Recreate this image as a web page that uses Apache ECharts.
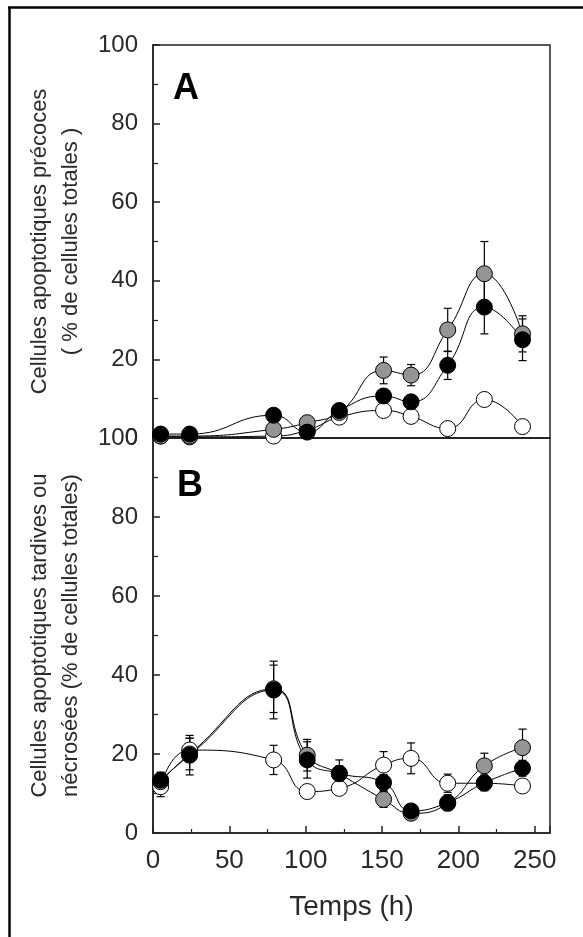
<!DOCTYPE html>
<html><head><meta charset="utf-8">
<script src="https://cdn.jsdelivr.net/npm/echarts@6/dist/echarts.min.js"></script>
<style>html,body{margin:0;padding:0;background:#fff}#c{width:583px;height:937px}</style>
</head><body><div id="c"></div>
<script>
// ---- data ----
const hours = [5, 24, 79, 101, 122, 151, 169, 193, 217, 242];
const xTickLabels = [0, 50, 100, 150, 200, 250];
const yTickLabels = [0, 20, 40, 60, 80, 100];

// Panel A : early apoptotic cells (% of total)
const blackA = [1, 1, 5.8, 1.5, 7, 10.7, 9.2, 18.5, 33.3, 25];
const grayA  = [0.5, 0.5, 2.2, 3.9, 6.5, 17.2, 16, 27.5, 41.8, 26.5];
const whiteA = [0.5, 0.3, 0.5, 2, 5.3, 7, 5.5, 2.4, 9.8, 2.9];
const blackAerr = [0.5, 0.5, 1, 1, 1, 1.5, 1.5, 3.6, 6.8, 5.3];
const grayAerr  = [0.5, 0.5, 1, 1, 1, 3.4, 2.7, 5.5, 8.2, 4.6];
const whiteAerr = [0.5, 0.5, 0.5, 1, 1, 1, 1, 1, 1, 1];

// Panel B : late apoptotic / necrotic cells (% of total)
const blackB = [13.4, 19.7, 36.2, 18.5, 15.1, 12.8, 5.6, 7.7, 12.7, 16.4];
const grayB  = [13, 20, 36.5, 19.7, 15, 8.5, 5, 7.5, 17, 21.6];
const whiteB = [11.7, 21, 18.5, 10.5, 11.3, 17.2, 18.9, 12.6, 12.6, 11.9];
const blackBerr = [2, 5, 7.3, 4.6, 3.4, 2, 1.5, 2, 2, 2];
const grayBerr  = [2, 4, 6, 4, 2, 2, 1, 1, 3.2, 4.7];
const whiteBerr = [2.5, 3, 3.7, 1, 1, 3.4, 3.9, 2.3, 1.5, 1.5];

const GRAY = '#959595';
const FONT = 'Liberation Sans, Arial, sans-serif';
const TXT = '#2a2a2a';

function pairs(vals){ return hours.map((h,i)=>[h, vals[i]]); }
function triples(vals, errs){ return hours.map((h,i)=>[h, vals[i], errs[i]]); }

function errRender(params, api){
  const x = api.value(0), y = api.value(1), e = api.value(2);
  const top = api.coord([x, y + e]), bot = api.coord([x, y - e]);
  const w = 4;
  const st = {stroke:'#000', lineWidth:1.2};
  return {type:'group', children:[
    {type:'line', shape:{x1:top[0],y1:top[1],x2:bot[0],y2:bot[1]}, style:st},
    {type:'line', shape:{x1:top[0]-w,y1:top[1],x2:top[0]+w,y2:top[1]}, style:st},
    {type:'line', shape:{x1:bot[0]-w,y1:bot[1],x2:bot[0]+w,y2:bot[1]}, style:st}
  ]};
}

function lineS(idx, vals){
  return {type:'line', xAxisIndex:idx, yAxisIndex:idx, data:pairs(vals), smooth:0.5,
    showSymbol:false, lineStyle:{color:'#000', width:1}, z:2, silent:true};
}
function errS(idx, vals, errs){
  return {type:'custom', xAxisIndex:idx, yAxisIndex:idx, data:triples(vals, errs),
    encode:{x:0, y:1}, renderItem:errRender, z:3, silent:true};
}
function dotS(idx, vals, color){
  return {type:'scatter', xAxisIndex:idx, yAxisIndex:idx, data:pairs(vals), symbol:'circle',
    symbolSize:16, itemStyle:{color:color, borderColor:'#000', borderWidth:1, opacity:1}, z:4, silent:true};
}

const xBase = {type:'value', min:0, max:260, interval:50,
  axisLine:{lineStyle:{color:'#222', width:1.5}},
  axisTick:{inside:true, length:7, lineStyle:{color:'#222', width:1.5}},
  minorTick:{show:true, splitNumber:2, length:4, lineStyle:{color:'#222', width:1.2}},
  splitLine:{show:false}
};
function yAxisCfg(idx, name){
  return {type:'value', gridIndex:idx, min:0, max:100, interval:20,
    name:name, nameLocation:'middle', nameGap:67, nameRotate:90,
    nameTextStyle:{fontFamily:FONT, fontSize:22, lineHeight:31, color:TXT},
    axisLine:{show:true, lineStyle:{color:'#222', width:1.5}},
    axisTick:{inside:true, length:7, lineStyle:{color:'#222', width:1.5}},
    minorTick:{show:true, splitNumber:2, length:5, lineStyle:{color:'#222', width:1.2}},
    axisLabel:{fontFamily:FONT, fontSize:24, color:TXT, margin:15,
      formatter:v=> yTickLabels.includes(v) ? String(v) : ''},
    splitLine:{show:false}
  };
}

const chart = echarts.init(document.getElementById('c'), null, {renderer:'canvas'});
chart.setOption({
  backgroundColor:'#fff',
  animation:false,
  grid:[
    {left:153, top:45, width:397, height:393, show:true, borderColor:'#222', borderWidth:1.5, backgroundColor:'transparent'},
    {left:153, top:438, width:397, height:395, show:true, borderColor:'#222', borderWidth:1.5, backgroundColor:'transparent'}
  ],
  xAxis:[
    Object.assign({}, xBase, {gridIndex:0, axisLabel:{show:false}, axisTick:{show:false}, minorTick:{show:false}}),
    Object.assign({}, xBase, {gridIndex:1, name:'Temps (h)', nameLocation:'middle', nameGap:60,
      nameTextStyle:{fontFamily:FONT, fontSize:28, color:TXT},
      axisLabel:{fontFamily:FONT, fontSize:26, color:TXT, margin:15,
        formatter:v=> xTickLabels.includes(v) ? String(v) : ''}})
  ],
  yAxis:[
    yAxisCfg(0, 'Cellules apoptotiques précoces\n( % de cellules totales )'),
    yAxisCfg(1, 'Cellules apoptotiques tardives ou\nnécrosées (% de cellules totales)')
  ],
  graphic:[
    {type:'line', shape:{x1:9.5, y1:7, x2:9.5, y2:937}, style:{stroke:'#000', lineWidth:2.5}, z:10},
    {type:'line', shape:{x1:8, y1:7.5, x2:583, y2:7.5}, style:{stroke:'#000', lineWidth:2.5}, z:10},
    {type:'text', x:186, y:89, style:{text:'A', font:'bold 36px '+FONT, fill:'#000', textAlign:'center', textVerticalAlign:'middle'}, z:10},
    {type:'text', x:190, y:486, style:{text:'B', font:'bold 36px '+FONT, fill:'#000', textAlign:'center', textVerticalAlign:'middle'}, z:10}
  ],
  series:[
    lineS(0, whiteA), lineS(0, grayA), lineS(0, blackA),
    errS(0, whiteA, whiteAerr), errS(0, grayA, grayAerr), errS(0, blackA, blackAerr),
    dotS(0, whiteA, '#fff'), dotS(0, grayA, GRAY), dotS(0, blackA, '#000'),
    lineS(1, whiteB), lineS(1, grayB), lineS(1, blackB),
    errS(1, whiteB, whiteBerr), errS(1, grayB, grayBerr), errS(1, blackB, blackBerr),
    dotS(1, whiteB, '#fff'), dotS(1, grayB, GRAY), dotS(1, blackB, '#000')
  ]
});
</script>
</body></html>
